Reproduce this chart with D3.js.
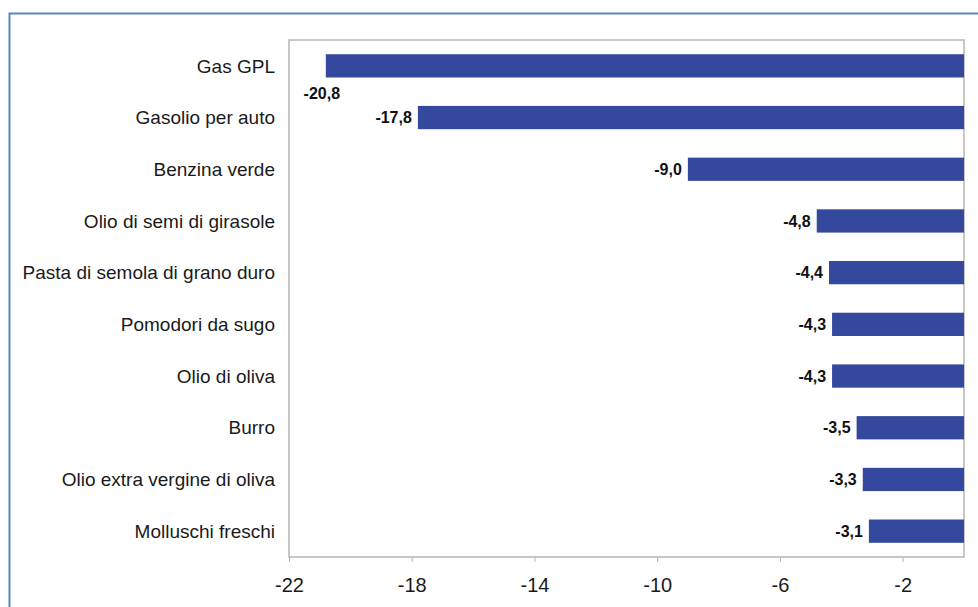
<!DOCTYPE html>
<html><head><meta charset="utf-8">
<script src="https://cdn.jsdelivr.net/npm/d3@7"></script>
<style>body{margin:0;background:#fff}svg{display:block}</style>
</head><body>
<svg id="c" width="978" height="607"></svg>
<script>
const categories = ["Gas GPL","Gasolio per auto","Benzina verde","Olio di semi di girasole","Pasta di semola di grano duro","Pomodori da sugo","Olio di oliva","Burro","Olio extra vergine di oliva","Molluschi freschi"];
const values = [-20.8,-17.8,-9.0,-4.8,-4.4,-4.3,-4.3,-3.5,-3.3,-3.1];
const tickValues = [-22,-18,-14,-10,-6,-2];

const svg = d3.select("#c");
const m = {left:289, right:964, top:40, bottom:557};
const x = d3.scaleLinear().domain([-22,0]).range([m.left,m.right]);
const y = d3.scaleBand().domain(categories).range([m.top,m.bottom]).paddingInner(0.55).paddingOuter(0.275);
const fmt = v => d3.format(".1f")(v).replace(".",",").replace("−","-");
const FONT = "Liberation Sans, Arial, sans-serif";

// outer frame
svg.append("path").attr("d","M9.5,607 V13.5 H978").attr("fill","none").attr("stroke","#5a84bd").attr("stroke-width",2);

// plot frame
svg.append("rect").attr("x",m.left).attr("y",m.top).attr("width",m.right-m.left).attr("height",m.bottom-m.top)
  .attr("fill","#fff").attr("stroke","#b5b5b5").attr("stroke-width",1.5);

// bars
svg.selectAll("rect.bar").data(values).join("rect").attr("class","bar")
  .attr("x",d=>x(d)).attr("width",d=>x(0)-x(d))
  .attr("y",(d,i)=>y(categories[i])).attr("height",y.bandwidth())
  .attr("fill","#34499e");

// value labels
svg.selectAll("text.val").data(values).join("text").attr("class","val")
  .attr("font-family",FONT).attr("font-weight","bold").attr("font-size",16)
  .attr("fill","#111")
  .each(function(d,i){
    const t = d3.select(this).text(fmt(d));
    const cy = y(categories[i]) + y.bandwidth()/2;
    if (x(d) - 45 < m.left) {
      t.attr("x",x(d)-4).attr("y",cy+y.bandwidth()/2+16).attr("text-anchor","middle").attr("dy","0.35em");
    } else {
      t.attr("x",x(d)-6).attr("y",cy).attr("text-anchor","end").attr("dy","0.35em");
    }
  });

// category labels
svg.selectAll("text.cat").data(categories).join("text").attr("class","cat")
  .attr("x",275).attr("y",d=>y(d)+y.bandwidth()/2).attr("dy","0.35em")
  .attr("text-anchor","end").attr("font-family",FONT).attr("font-size",19)
  .attr("fill","#1a1a1a").text(d=>d);

// x axis
const ax = svg.append("g").attr("transform",`translate(0,${m.bottom})`)
  .call(d3.axisBottom(x).tickValues(tickValues).tickSize(5).tickPadding(16).tickFormat(d=>String(d)));
ax.select(".domain").remove();
ax.selectAll(".tick line").attr("stroke","#b5b5b5");
ax.selectAll(".tick text").attr("font-family",FONT).attr("font-size",20).attr("fill","#1a1a1a");
</script>
</body></html>
